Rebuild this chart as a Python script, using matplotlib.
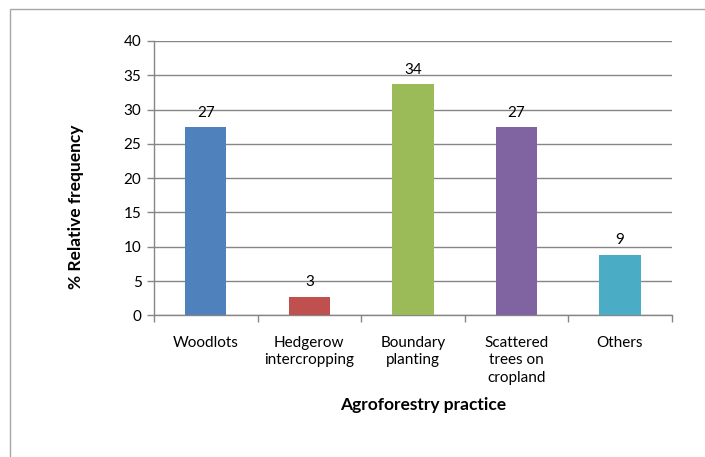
import matplotlib
matplotlib.use("Agg")
import matplotlib.pyplot as plt
from matplotlib.patches import Rectangle

categories = ["Woodlots", "Hedgerow\nintercropping", "Boundary\nplanting",
              "Scattered\ntrees on\ncropland", "Others"]
values = [27.4, 2.7, 33.7, 27.4, 8.8]
colors = ["#4F81BD", "#C0504D", "#9BBB59", "#8064A2", "#4BACC6"]
yticks = [0, 5, 10, 15, 20, 25, 30, 35, 40]

plt.rcParams["font.family"] = ["Lato", "DejaVu Sans"]

fig = plt.figure(figsize=(7.05, 4.57), dpi=100)
W, H = 705, 457

# chart frame
fig.patches.append(Rectangle((10 / W, -0.1), 1.2, 1 - 9 / H + 0.1,
                             transform=fig.transFigure, fill=False,
                             edgecolor="#a6a6a6", linewidth=1.0))

ax = fig.add_axes([154 / W, 1 - 315.3 / H, (671.7 - 154) / W, (315.3 - 41) / H])

x = list(range(len(categories)))
bars = ax.bar(x, values, width=0.40, color=colors, zorder=3)
for xi, v in zip(x, values):
    ax.annotate(f"{v:.0f}", (xi, v), xytext=(0, 5.5), textcoords="offset points",
                ha="center", va="bottom", fontsize=11, color="#000000")

ax.set_xlim(-0.5, len(categories) - 0.5)
ax.set_ylim(0, 40)
ax.set_yticks(yticks)
ax.yaxis.grid(True, color="#868686", linewidth=1.0, zorder=0)
ax.set_axisbelow(True)

ax.set_xticks([i - 0.5 for i in range(len(categories) + 1)], minor=False)
ax.set_xticklabels([])
ax.set_xticks(x, minor=True)
ax.set_xticklabels(categories, minor=True, fontsize=11, linespacing=1.3,
                   va="top")
ax.tick_params(axis="x", which="minor", length=0, pad=15)
ax.tick_params(axis="x", which="major", length=5, color="#868686", width=1.0)
ax.tick_params(axis="y", length=5, color="#868686", width=1.0, labelsize=11,
               pad=4)

for side in ["top", "right"]:
    ax.spines[side].set_visible(False)
for side in ["left", "bottom"]:
    ax.spines[side].set_color("#868686")
    ax.spines[side].set_linewidth(1.0)

fig.text(76 / W, 1 - 207 / H, "% Relative frequency", rotation=90,
         ha="center", va="center", fontsize=12.5, fontweight="bold")
fig.text(423 / W, 1 - 405 / H, "Agroforestry practice",
         ha="center", va="center", fontsize=12.5, fontweight="bold")

fig.savefig("out.png", dpi=100)
